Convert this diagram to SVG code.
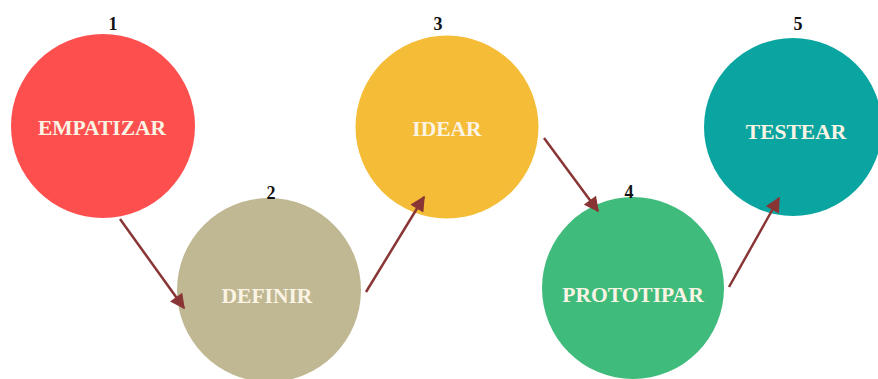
<svg xmlns="http://www.w3.org/2000/svg" width="878" height="379" viewBox="0 0 878 379">
  <style>
    .num { font-family: "Liberation Serif", "Times New Roman", serif; font-weight: bold; font-size: 18px; fill: #111; text-anchor: middle; }
    .lbl { font-family: "Liberation Serif", "Times New Roman", serif; font-weight: bold; font-size: 21.5px; fill: #fbf3e4; text-anchor: middle; }
    .conn { stroke: #8a3535; stroke-width: 2.5; fill: none; marker-end: url(#arrow); }
  </style>
  <defs>
    <marker id="arrow" viewBox="0 0 10 10" refX="9" refY="5" markerWidth="6.5" markerHeight="6" orient="auto" markerUnits="strokeWidth">
      <path d="M0,0 L10,5 L0,10 z" fill="#8a3535"/>
    </marker>
  </defs>
  <rect width="878" height="379" fill="#ffffff"/>

  <g id="node-1">
    <circle cx="103" cy="126" r="92" fill="#fe4f4f"/>
    <text class="num" x="113" y="30">1</text>
    <text class="lbl" x="102" y="135">EMPATIZAR</text>
  </g>
  <g id="node-2">
    <circle cx="269" cy="290" r="92" fill="#c0b893"/>
    <text class="num" x="271" y="199">2</text>
    <text class="lbl" x="267" y="303">DEFINIR</text>
  </g>
  <g id="node-3">
    <circle cx="447" cy="127" r="91.5" fill="#f5bd37"/>
    <text class="num" x="438" y="30">3</text>
    <text class="lbl" x="447" y="136">IDEAR</text>
  </g>
  <g id="node-4">
    <circle cx="633" cy="288" r="91" fill="#3fbb7b"/>
    <text class="num" x="629" y="198">4</text>
    <text class="lbl" x="633" y="302">PROTOTIPAR</text>
  </g>
  <g id="node-5">
    <circle cx="793" cy="127" r="89" fill="#0aa5a1"/>
    <text class="num" x="798" y="30">5</text>
    <text class="lbl" x="796" y="139">TESTEAR</text>
  </g>

  <g id="connectors">
    <line class="conn" x1="120" y1="219" x2="184" y2="308"/>
    <line class="conn" x1="366" y1="292" x2="424" y2="197"/>
    <line class="conn" x1="544" y1="138" x2="598" y2="211"/>
    <line class="conn" x1="729" y1="287" x2="779" y2="198"/>
  </g>
</svg>
